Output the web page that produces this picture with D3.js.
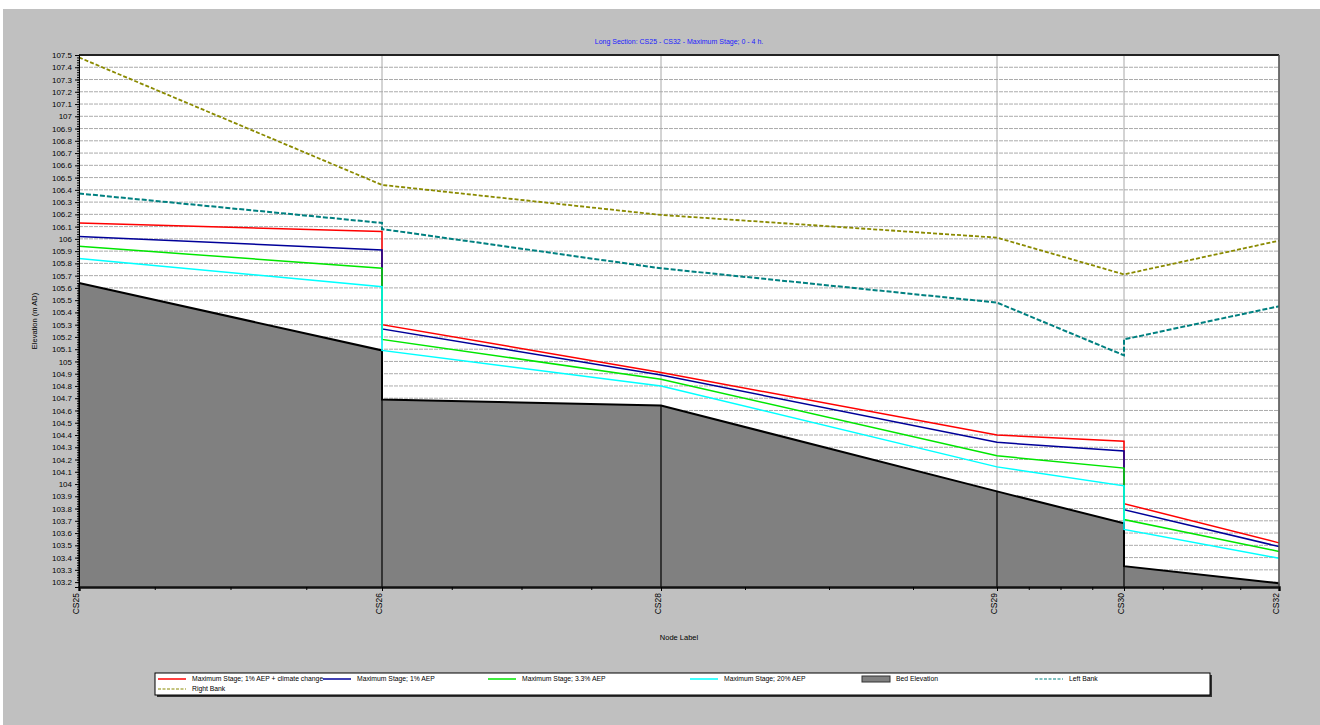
<!DOCTYPE html>
<html>
<head>
<meta charset="utf-8">
<script src="https://cdn.jsdelivr.net/npm/d3@7"></script>
<style>
  body { margin: 0; background: #fff; }
  svg { display: block; font-family: "Liberation Sans", Arial, sans-serif; }
</style>
</head>
<body>
<div id="chart-area"></div>
<script>
// Node labels and their chainage along the reach
var nodes = ["CS25", "CS26", "CS28", "CS29", "CS30", "CS32"];
var chainage = [0, 303, 582, 918, 1045, 1200];

// Elevations per node; [upstream, downstream] where the profile steps
var stageCC   = [106.13, [106.06, 105.30], 104.91, 104.40, [104.35, 103.84], 103.52];
var stage1    = [106.02, [105.91, 105.265], 104.89, 104.34, [104.27, 103.79], 103.49];
var stage33   = [105.94, [105.76, 105.18], 104.855, 104.23, [104.13, 103.71], 103.45];
var stage20   = [105.84, [105.61, 105.09], 104.80, 104.14, [103.985, 103.63], 103.395];
var bed       = [105.64, [105.09, 104.69], 104.64, 103.94, [103.68, 103.33], 103.19];
var leftBank  = [106.37, [106.13, 106.08], 105.76, 105.48, [105.05, 105.18], 105.45];
var rightBank = [107.48, 106.44, 106.195, 106.01, 105.71, 105.985];

var yTicks = d3.range(1032, 1076).map(function (d) { return d / 10; });

var legendNames = [
    "Maximum Stage; 1% AEP + climate change",
    "Maximum Stage; 1% AEP",
    "Maximum Stage; 3.3% AEP",
    "Maximum Stage; 20% AEP",
    "Bed Elevation",
    "Left Bank",
    "Right Bank"
];

var W = 1320, H = 725;
var margin = {top: 55, right: 41, bottom: 138, left: 79};

var svg = d3.select("#chart-area").append("svg")
    .attr("width", W)
    .attr("height", H);

// grey panel
svg.append("rect")
    .attr("x", 3).attr("y", 9)
    .attr("width", W - 3).attr("height", H - 9)
    .attr("fill", "#c0c0c0");

var x = d3.scaleLinear()
    .domain([0, 1200])
    .range([margin.left, W - margin.right]);

var y = d3.scaleLinear()
    .domain([103.16, 107.5])
    .range([H - margin.bottom, margin.top]);

// turn a per-node profile into points (steps become two points at the same x)
function toPoints(profile) {
    var pts = [];
    profile.forEach(function (v, i) {
        if (Array.isArray(v)) {
            pts.push([chainage[i], v[0]]);
            pts.push([chainage[i], v[1]]);
        } else {
            pts.push([chainage[i], v]);
        }
    });
    return pts;
}

var line = d3.line()
    .x(function (d) { return x(d[0]); })
    .y(function (d) { return y(d[1]); });

// plot background
svg.append("rect")
    .attr("x", x(0)).attr("y", y(107.5))
    .attr("width", x(1200) - x(0))
    .attr("height", y(103.16) - y(107.5))
    .attr("fill", "#fff");

// horizontal grid
svg.append("g")
    .selectAll("line")
    .data(yTicks)
    .enter().append("line")
    .attr("x1", x(0)).attr("x2", x(1200))
    .attr("y1", function (d) { return y(d); })
    .attr("y2", function (d) { return y(d); })
    .attr("stroke", "#ababab")
    .attr("stroke-width", 1)
    .attr("stroke-dasharray", "4,1");

// vertical grid at nodes
svg.append("g")
    .selectAll("line")
    .data(chainage)
    .enter().append("line")
    .attr("x1", function (d) { return x(d); })
    .attr("x2", function (d) { return x(d); })
    .attr("y1", y(107.5)).attr("y2", y(103.16))
    .attr("stroke", "#a8a8a8")
    .attr("stroke-width", 1);

// bed elevation
var bedPts = toPoints(bed);
var bedArea = d3.area()
    .x(function (d) { return x(d[0]); })
    .y0(y(103.16))
    .y1(function (d) { return y(d[1]); });

svg.append("path")
    .datum(bedPts)
    .attr("d", bedArea)
    .attr("fill", "#808080");

svg.append("g")
    .selectAll("line")
    .data(chainage)
    .enter().append("line")
    .attr("x1", function (d) { return x(d); })
    .attr("x2", function (d) { return x(d); })
    .attr("y1", function (d, i) {
        var v = bed[i];
        return y(Array.isArray(v) ? d3.max(v) : v);
    })
    .attr("y2", y(103.16))
    .attr("stroke", "#000")
    .attr("stroke-width", 1.2);

svg.append("path")
    .datum(bedPts)
    .attr("d", line)
    .attr("fill", "none")
    .attr("stroke", "#000")
    .attr("stroke-width", 2);

// banks
svg.append("path")
    .datum(toPoints(rightBank))
    .attr("d", line)
    .attr("fill", "none")
    .attr("stroke", "#8a8a00")
    .attr("stroke-width", 1.8)
    .attr("stroke-dasharray", "4,2");

svg.append("path")
    .datum(toPoints(leftBank))
    .attr("d", line)
    .attr("fill", "none")
    .attr("stroke", "#008080")
    .attr("stroke-width", 2)
    .attr("stroke-dasharray", "5,2");

// water levels
var stages = [
    {data: stageCC, color: "#ff0000"},
    {data: stage1, color: "#000099"},
    {data: stage33, color: "#00e600"},
    {data: stage20, color: "#00ffff"}
];

stages.forEach(function (s) {
    svg.append("path")
        .datum(toPoints(s.data))
        .attr("d", line)
        .attr("fill", "none")
        .attr("stroke", s.color)
        .attr("stroke-width", 1.5);
});

// frame
svg.append("line")
    .attr("x1", x(0)).attr("x2", x(1200))
    .attr("y1", y(107.5)).attr("y2", y(107.5))
    .attr("stroke", "#222").attr("stroke-width", 2);
svg.append("line")
    .attr("x1", x(1200)).attr("x2", x(1200))
    .attr("y1", y(107.5)).attr("y2", y(103.16))
    .attr("stroke", "#555").attr("stroke-width", 1.5);

// y axis
var yAxis = d3.axisLeft(y)
    .tickValues(yTicks)
    .tickSize(4)
    .tickFormat(function (d) { return String(+d.toFixed(1)); });

var gy = svg.append("g")
    .attr("transform", "translate(" + x(0) + ",0)")
    .call(yAxis);
gy.select(".domain").attr("stroke", "#000");
gy.selectAll("text")
    .attr("font-size", "8px")
    .attr("font-family", "'Liberation Sans', Arial, sans-serif")
    .attr("fill", "#000");

var yMinor = d3.axisLeft(y)
    .tickValues(d3.range(5160, 5376).map(function (d) { return d / 50; }))
    .tickSize(2)
    .tickFormat("");
svg.append("g")
    .attr("transform", "translate(" + x(0) + ",0)")
    .call(yMinor)
    .select(".domain").remove();

// x axis
var xAxis = d3.axisBottom(x)
    .tickValues(chainage)
    .tickSize(4)
    .tickFormat(function (d, i) { return nodes[i]; });

var gx = svg.append("g")
    .attr("transform", "translate(0," + y(103.16) + ")")
    .call(xAxis);
gx.select(".domain").attr("stroke", "#111").attr("stroke-width", 2.5);
gx.selectAll("text")
    .attr("font-size", "8.5px")
    .attr("font-family", "'Liberation Sans', Arial, sans-serif")
    .attr("fill", "#000")
    .attr("text-anchor", "end")
    .attr("transform", "translate(-3,6) rotate(-90)")
    .attr("x", 0)
    .attr("y", 0)
    .attr("dy", "0.35em");

var minorX = [];
for (var i = 0; i < chainage.length - 1; i++) {
    for (var k = 1; k < 4; k++) {
        minorX.push(chainage[i] + (chainage[i + 1] - chainage[i]) * k / 4);
    }
}
var xMinor = d3.axisBottom(x)
    .tickValues(minorX)
    .tickSize(3)
    .tickFormat("");
svg.append("g")
    .attr("transform", "translate(0," + y(103.16) + ")")
    .call(xMinor)
    .select(".domain").remove();

// titles
svg.append("text")
    .attr("x", (x(0) + x(1200)) / 2)
    .attr("y", 44)
    .attr("text-anchor", "middle")
    .attr("font-size", "7px")
    .attr("fill", "#1a1aff")
    .text("Long Section: CS25 - CS32 - Maximum Stage; 0 - 4 h.");

svg.append("text")
    .attr("transform", "translate(37," + ((y(107.5) + y(103.16)) / 2) + ") rotate(-90)")
    .attr("text-anchor", "middle")
    .attr("font-size", "7.5px")
    .attr("fill", "#000")
    .text("Elevation (m AD)");

svg.append("text")
    .attr("x", (x(0) + x(1200)) / 2)
    .attr("y", 640)
    .attr("text-anchor", "middle")
    .attr("font-size", "7.5px")
    .attr("fill", "#000")
    .text("Node Label");

// legend
var lg = svg.append("g");
lg.append("rect")
    .attr("x", 157).attr("y", 675)
    .attr("width", 1055).attr("height", 22)
    .attr("fill", "#333");
lg.append("rect")
    .attr("x", 155).attr("y", 673)
    .attr("width", 1055).attr("height", 22)
    .attr("fill", "#fff")
    .attr("stroke", "#000")
    .attr("stroke-width", 1);

var legendItems = [
    {x: 158, y: 679, color: "#ff0000", type: "line"},
    {x: 323, y: 679, color: "#000099", type: "line"},
    {x: 488, y: 679, color: "#00e600", type: "line"},
    {x: 690, y: 679, color: "#00ffff", type: "line"},
    {x: 862, y: 679, color: "#808080", type: "rect"},
    {x: 1035, y: 679, color: "#008080", type: "dash"},
    {x: 158, y: 689, color: "#8a8a00", type: "dash"}
];

legendItems.forEach(function (d, i) {
    if (d.type === "rect") {
        lg.append("rect")
            .attr("x", d.x).attr("y", d.y - 3)
            .attr("width", 28).attr("height", 6)
            .attr("fill", d.color)
            .attr("stroke", "#333")
            .attr("stroke-width", 1);
    } else {
        lg.append("line")
            .attr("x1", d.x).attr("x2", d.x + 28)
            .attr("y1", d.y).attr("y2", d.y)
            .attr("stroke", d.color)
            .attr("stroke-width", d.type === "dash" ? 1.2 : 1.5)
            .attr("stroke-dasharray", d.type === "dash" ? "3,1.5" : null);
    }
    lg.append("text")
        .attr("x", d.x + 34)
        .attr("y", d.y)
        .attr("dy", "0.35em")
        .attr("font-size", "6.8px")
        .attr("fill", "#000")
        .text(legendNames[i]);
});
</script>
</body>
</html>
